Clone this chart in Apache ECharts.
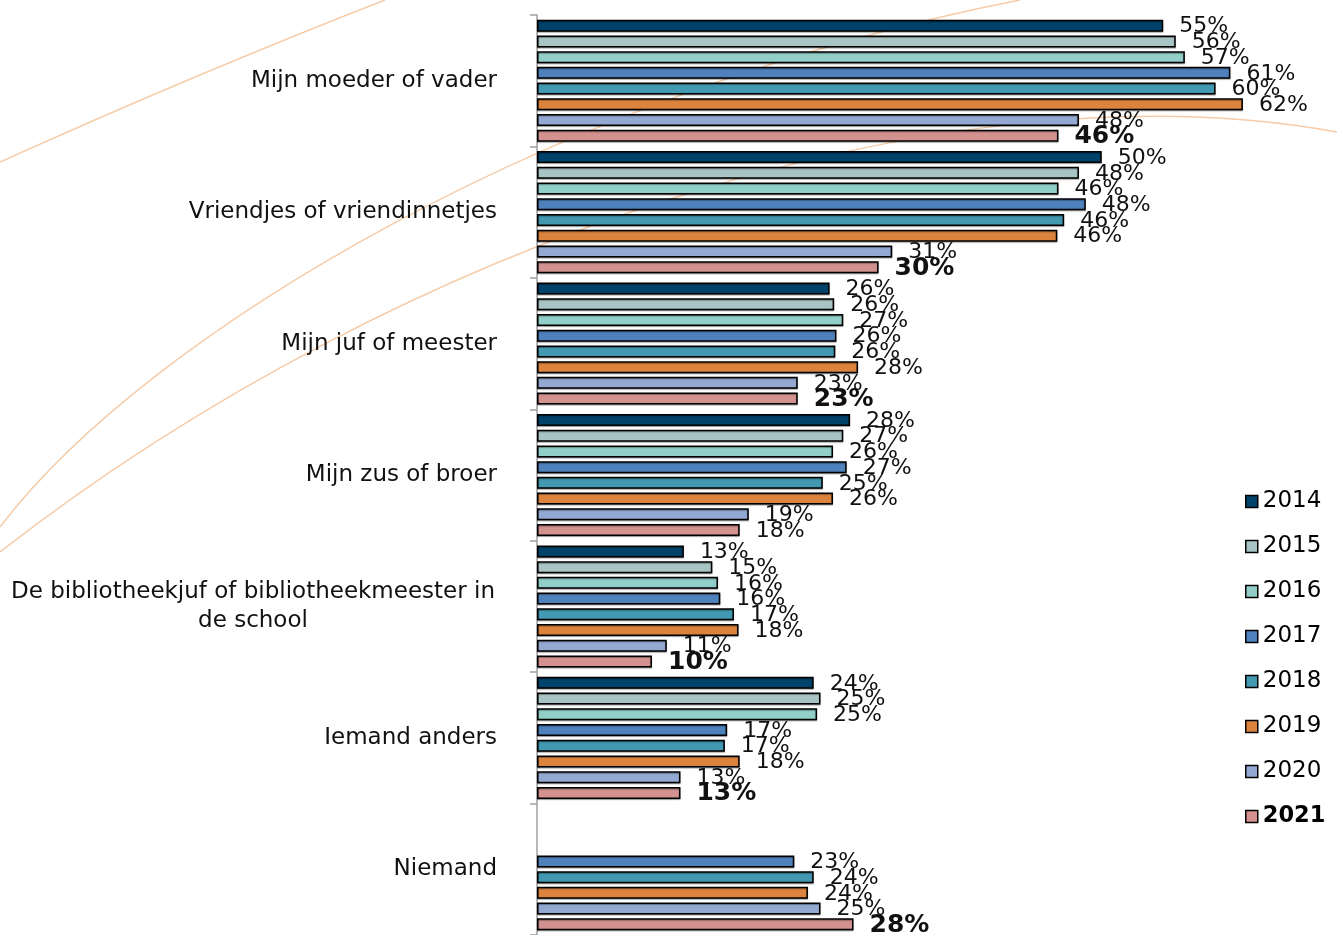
<!DOCTYPE html>
<html>
<head>
<meta charset="utf-8">
<script src="https://cdn.jsdelivr.net/npm/echarts@6/dist/echarts.min.js"></script>
<style>
html,body{margin:0;padding:0;background:#fff;}
#chart{width:1337px;height:935px;}
</style>
</head>
<body>
<div id="chart"></div>
<script>
// Categories (top to bottom)
const categories = [
  'Mijn moeder of vader',
  'Vriendjes of vriendinnetjes',
  'Mijn juf of meester',
  'Mijn zus of broer',
  'De bibliotheekjuf of bibliotheekmeester in\nde school',
  'Iemand anders',
  'Niemand'
];
const years = ['2014','2015','2016','2017','2018','2019','2020','2021'];

// Values in percent, per year, in category order
const v2014 = [55.0, 49.6, 25.7, 27.5, 12.9, 24.3, null];
const v2015 = [56.1, 47.6, 26.1, 26.9, 15.4, 24.9, null];
const v2016 = [56.9, 45.8, 26.9, 26.0, 15.9, 24.6, null];
const v2017 = [60.9, 48.2, 26.3, 27.2, 16.1, 16.7, 22.6];
const v2018 = [59.6, 46.3, 26.2, 25.1, 17.3, 16.5, 24.3];
const v2019 = [62.0, 45.7, 28.2, 26.0, 17.7, 17.8, 23.8];
const v2020 = [47.6, 31.2, 22.9, 18.6, 11.4, 12.6, 24.9];
const v2021 = [45.8, 30.0, 22.9, 17.8, 10.1, 12.6, 27.8];

// 2021 labels are bold, except this category (plain in the original)
const plainLabelCategory = 'Mijn zus of broer';

const seriesValues = [v2014, v2015, v2016, v2017, v2018, v2019, v2020, v2021];
const colors = ['#00426a','#a9c4c4','#91cfc8','#4f81bd','#4299b1','#dc843e','#94a9d2','#d39290'];

const FONT = 'DejaVu Sans';
const NORMAL_SIZE = 22;
const BOLD_SIZE = 25;

const series = years.map((y, i) => {
  const isBold = y === '2021';
  const data = seriesValues[i].map((v, ci) => {
    if (isBold && categories[ci] === plainLabelCategory) {
      return { value: v, label: { fontWeight: 'normal', fontSize: NORMAL_SIZE } };
    }
    return v;
  });
  return {
    name: y,
    type: 'bar',
    data: data,
    barWidth: 12,
    barGap: '31%',
    itemStyle: {
      color: colors[i], borderColor: '#000', borderWidth: 1.5,
      shadowColor: 'rgba(0,0,0,0.35)', shadowBlur: 1, shadowOffsetX: 0, shadowOffsetY: 1
    },
    label: {
      show: true,
      position: 'right',
      distance: 16,
      offset: [0, 1],
      fontFamily: FONT,
      fontSize: isBold ? BOLD_SIZE : NORMAL_SIZE,
      fontWeight: isBold ? 'bold' : 'normal',
      color: '#111',
      formatter: p => Math.round(p.value) + '%'
    },
    z: 3
  };
});

const yData = categories.map(c => {
  if (c.indexOf('\n') >= 0) {
    return { value: c, textStyle: { align: 'center', padding: [0, 488, 0, 0], lineHeight: 29 } };
  }
  return c;
});

const chart = echarts.init(document.getElementById('chart'), null, { renderer: 'canvas' });
chart.setOption({
  animation: false,
  backgroundColor: '#ffffff',
  textStyle: { fontFamily: FONT },
  graphic: [
    { type: 'bezierCurve', z: -10, silent: true,
      shape: { x1: 0, y1: 162, x2: 385, y2: 0, cpx1: 200, cpy1: 72 },
      style: { stroke: '#f5cba8', lineWidth: 1.5, fill: null } },
    { type: 'bezierCurve', z: -10, silent: true,
      shape: { x1: 0, y1: 527, x2: 1020, y2: 0, cpx1: 150, cpy1: 330, cpx2: 560, cpy2: 90 },
      style: { stroke: '#f5cba8', lineWidth: 1.5, fill: null } },
    { type: 'bezierCurve', z: -10, silent: true,
      shape: { x1: 0, y1: 552, x2: 1337, y2: 132, cpx1: 400, cpy1: 240, cpx2: 950, cpy2: 60 },
      style: { stroke: '#f5cba8', lineWidth: 1.5, fill: null } }
  ],
  legend: {
    orient: 'vertical',
    left: 1240,
    top: 485,
    itemWidth: 12,
    itemHeight: 12,
    itemGap: 22,
    icon: 'rect',
    itemStyle: { borderColor: '#000', borderWidth: 1.5, shadowBlur: 0, shadowOffsetY: 0 },
    data: years,
    formatter: n => n === '2021' ? '{b|' + n + '}' : '{n|' + n + '}',
    textStyle: {
      fontFamily: FONT,
      fontSize: 23,
      color: '#000',
      rich: {
        n: { fontFamily: FONT, fontSize: 23, color: '#000', lineHeight: 23 },
        b: { fontFamily: FONT, fontSize: 22.5, color: '#000', fontWeight: 'bold', lineHeight: 23 }
      }
    }
  },
  grid: { left: 537, right: 3, top: 15, bottom: 0, containLabel: false },
  xAxis: {
    type: 'value', min: 0, max: 70, show: false,
    splitLine: { show: false }
  },
  yAxis: {
    type: 'category',
    inverse: true,
    data: yData,
    axisLine: { show: true, lineStyle: { color: '#a0a0a0', width: 1.5 } },
    axisTick: { show: true, length: 7, lineStyle: { color: '#a0a0a0', width: 1.5 } },
    axisLabel: {
      fontFamily: FONT,
      fontSize: 23,
      color: '#111',
      margin: 40,
      lineHeight: 29
    }
  },
  series: series
});
</script>
</body>
</html>
